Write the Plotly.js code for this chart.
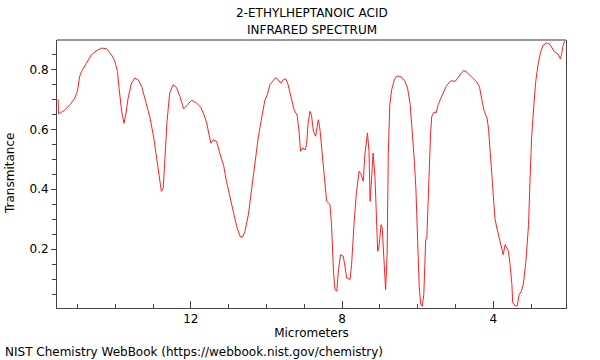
<!DOCTYPE html>
<html>
<head>
<meta charset="utf-8">
<script src="https://cdn.plot.ly/plotly-3.0.1.min.js"></script>
<style>html,body{margin:0;padding:0;background:#fff;}#chart{width:600px;height:360px;}</style>
</head>
<body>
<div id="chart"></div>
<script>
const micrometers = [15.51,15.50,15.47,15.33,15.20,15.07,15.00,14.94,14.89,14.76,14.63,14.50,14.36,14.23,14.10,14.01,13.94,13.90,13.83,13.77,13.72,13.66,13.57,13.48,13.39,13.30,13.20,13.08,12.98,12.88,12.82,12.78,12.73,12.69,12.63,12.56,12.47,12.38,12.29,12.19,12.10,11.98,11.85,11.74,11.66,11.58,11.52,11.47,11.41,11.32,11.25,11.19,11.13,11.06,10.97,10.88,10.79,10.70,10.63,10.57,10.48,10.39,10.31,10.22,10.13,10.04,9.98,9.91,9.84,9.76,9.69,9.62,9.56,9.49,9.43,9.35,9.27,9.19,9.14,9.10,9.04,8.98,8.94,8.90,8.85,8.81,8.76,8.70,8.63,8.59,8.53,8.47,8.41,8.32,8.28,8.23,8.19,8.14,8.10,8.04,7.97,7.92,7.88,7.79,7.75,7.68,7.62,7.55,7.50,7.44,7.40,7.33,7.29,7.26,7.22,7.18,7.13,7.09,7.06,7.03,6.97,6.94,6.88,6.85,6.81,6.78,6.74,6.69,6.62,6.56,6.47,6.41,6.34,6.27,6.20,6.14,6.09,6.05,6.00,5.96,5.92,5.88,5.84,5.81,5.79,5.76,5.72,5.69,5.66,5.63,5.57,5.52,5.46,5.39,5.32,5.25,5.16,5.10,5.01,4.93,4.86,4.79,4.70,4.62,4.53,4.44,4.37,4.33,4.29,4.24,4.17,4.13,4.09,4.04,4.00,3.96,3.91,3.87,3.82,3.78,3.74,3.69,3.65,3.60,3.56,3.51,3.49,3.43,3.37,3.32,3.26,3.21,3.14,3.07,3.03,2.99,2.93,2.88,2.82,2.76,2.69,2.60,2.51,2.44,2.38,2.29,2.23,2.20,2.16,2.11];
const transmittance = [0.700,0.652,0.653,0.665,0.682,0.704,0.727,0.777,0.793,0.821,0.849,0.862,0.871,0.869,0.849,0.827,0.793,0.738,0.660,0.620,0.649,0.704,0.754,0.771,0.765,0.743,0.699,0.638,0.571,0.482,0.427,0.393,0.404,0.482,0.627,0.721,0.749,0.740,0.710,0.668,0.682,0.697,0.688,0.674,0.651,0.621,0.582,0.554,0.565,0.560,0.527,0.499,0.477,0.427,0.371,0.327,0.277,0.243,0.241,0.260,0.315,0.404,0.493,0.571,0.638,0.699,0.715,0.749,0.760,0.773,0.765,0.754,0.765,0.769,0.749,0.710,0.665,0.647,0.593,0.527,0.538,0.531,0.549,0.621,0.660,0.647,0.593,0.577,0.632,0.604,0.527,0.438,0.360,0.349,0.282,0.127,0.065,0.060,0.127,0.182,0.177,0.138,0.104,0.099,0.149,0.293,0.393,0.460,0.449,0.427,0.515,0.588,0.527,0.360,0.427,0.521,0.438,0.282,0.193,0.204,0.282,0.271,0.149,0.065,0.182,0.515,0.682,0.732,0.765,0.777,0.777,0.771,0.760,0.738,0.682,0.593,0.493,0.404,0.238,0.071,0.015,0.010,0.049,0.193,0.231,0.238,0.404,0.530,0.590,0.643,0.658,0.654,0.682,0.704,0.727,0.743,0.758,0.762,0.760,0.773,0.784,0.797,0.790,0.780,0.769,0.758,0.743,0.721,0.688,0.660,0.638,0.604,0.538,0.438,0.360,0.304,0.271,0.249,0.215,0.193,0.182,0.215,0.204,0.193,0.149,0.082,0.022,0.011,0.011,0.049,0.060,0.082,0.160,0.282,0.438,0.571,0.682,0.760,0.815,0.854,0.880,0.888,0.884,0.871,0.858,0.851,0.835,0.849,0.877,0.897];

const titleLine1 = '2-ETHYLHEPTANOIC ACID';
const titleLine2 = 'INFRARED SPECTRUM';
const xTitle = 'Micrometers';
const yTitle = 'Transmitance';
const sourceText = 'NIST Chemistry WebBook (https://webbook.nist.gov/chemistry)';
const font = 'DejaVu Sans, sans-serif';
const txt = {family: font, size: 12, color: '#000'};

const trace = {
  x: micrometers, y: transmittance, type: 'scatter', mode: 'lines',
  line: {color: '#ff2020', width: 1}, hoverinfo: 'skip'
};

const layout = {
  width: 600, height: 360,
  margin: {l: 57, r: 34, t: 40, b: 52},
  paper_bgcolor: '#fff', plot_bgcolor: '#fff',
  font: txt,
  showlegend: false,
  title: {text: titleLine1, x: 0.5, xref: 'paper', xanchor: 'center', y: 13, yref: 'container', yanchor: 'middle', font: txt},
  xaxis: {
    range: [15.54, 2.08], autorange: false,
    showgrid: false, zeroline: false,
    showline: true, linecolor: '#444', linewidth: 1,
    ticks: 'inside', ticklen: 7, tickcolor: '#444', tickwidth: 1,
    tick0: 0, dtick: 4,
    minor: {ticks: 'inside', dtick: 1, ticklen: 4, tickcolor: '#444', showgrid: false},
    tickfont: txt,
    title: {text: xTitle, standoff: 2, font: txt}
  },
  yaxis: {
    range: [0.004, 0.898], autorange: false,
    showgrid: false, zeroline: false,
    showline: true, linecolor: '#444', linewidth: 1, mirror: true,
    ticks: 'outside', ticklen: 5, tickcolor: '#444', tickwidth: 1,
    tick0: 0, dtick: 0.2, tickformat: '.1f',
    minor: {ticks: 'outside', dtick: 0.05, ticklen: 4, tickcolor: '#444', showgrid: false},
    tickfont: txt
  },
  shapes: [
    {type: 'line', xref: 'paper', yref: 'paper', x0: 0, x1: 1, y0: 1, y1: 1, line: {color: '#999', width: 2}}
  ],
  annotations: [
    {text: titleLine1, xref: 'paper', yref: 'paper', x: 0.5, y: 1 + 27/268, xanchor: 'center', yanchor: 'middle', showarrow: false, font: txt},
    {text: titleLine2, xref: 'paper', yref: 'paper', x: 0.5, y: 1 + 10/268, xanchor: 'center', yanchor: 'middle', showarrow: false, font: txt},
    {text: yTitle, xref: 'paper', yref: 'paper', x: -47/509, y: 0.5, xanchor: 'center', yanchor: 'middle', textangle: -90, showarrow: false, font: txt},
    {text: sourceText, xref: 'paper', yref: 'paper', x: -0.106, y: -0.164, xanchor: 'left', yanchor: 'middle', showarrow: false, font: txt}
  ]
};
layout.title = {text: ''};

Plotly.newPlot('chart', [trace], layout, {displayModeBar: false, staticPlot: true});
</script>
</body>
</html>
